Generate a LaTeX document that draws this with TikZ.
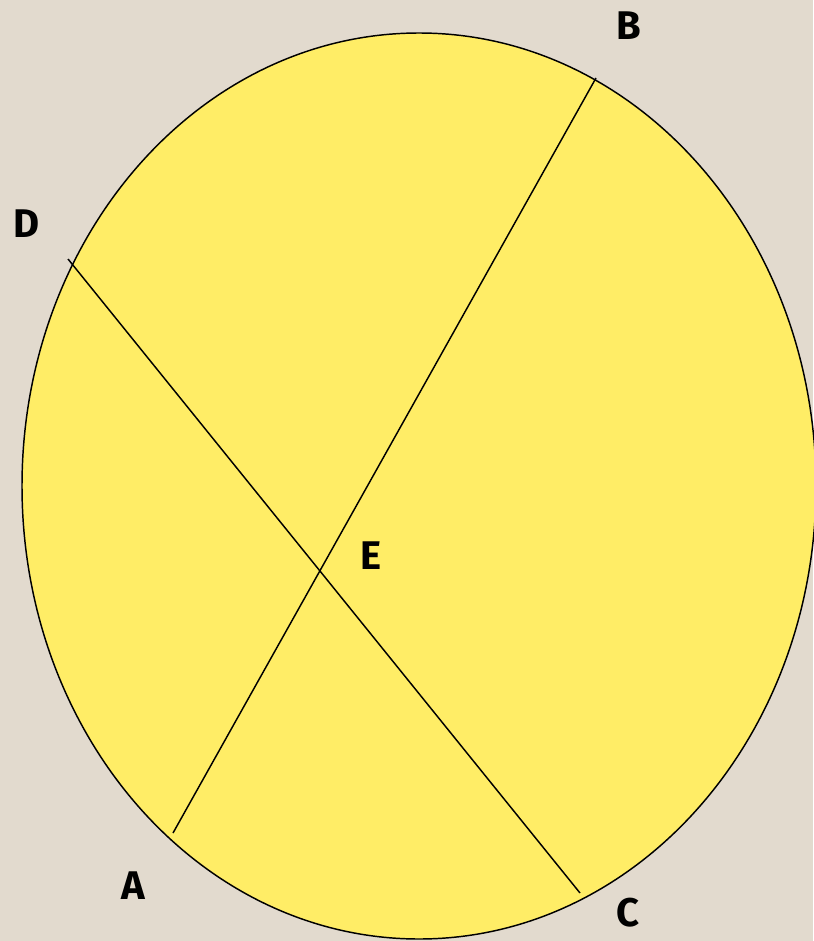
\documentclass[tikz,border=0pt]{standalone}
\usepackage{fontspec}
\setmainfont{Fira Sans}
\usepackage{xcolor}
\definecolor{colBack}{RGB}{226,218,206}
\definecolor{colDisc}{RGB}{255,237,102}
\usetikzlibrary{calc}

\begin{document}
\begin{tikzpicture}[x=0.75pt, y=-0.75pt]
				\tikzset{lbl/.style={font=\fontsize{30}{33}\selectfont\bfseries, text=black}}
				\fill[colBack] (0,0) rectangle (813,941);
				\useasboundingbox (0,0) rectangle (813,941);
				\draw[fill=colDisc, line width=1.1pt] (419,486) ellipse [x radius=397, y radius=453];
				\coordinate (A) at (173,833);
				\coordinate (B) at (596,78);
				\coordinate (C) at (580,893);
				\coordinate (D) at (68,259);
				\coordinate (E) at (320,570);
				\draw[line width=1.1pt] (B) -- (A);
				\draw[line width=1.1pt] (D) -- (C);
				\node[lbl] (labA) at (133,886) {A};
				\node[lbl] (labB) at (629,26) {B};
				\node[lbl] (labC) at (628,913) {C};
				\node[lbl] (labD) at (27,224) {D};
				\node[lbl] (labE) at (371,556) {E};
			\end{tikzpicture}
\end{document}
